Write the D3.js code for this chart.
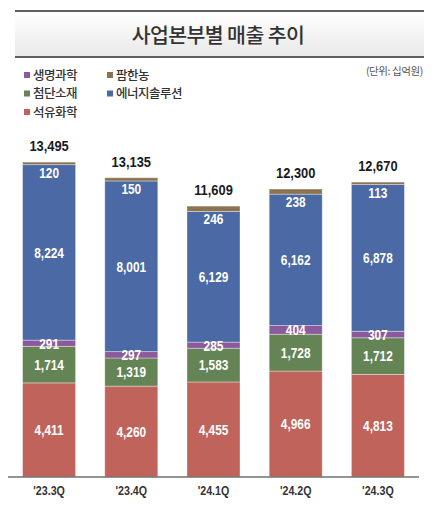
<!DOCTYPE html>
<html>
<head>
<meta charset="utf-8">
<script src="https://cdn.jsdelivr.net/npm/d3@7"></script>
<style>
  body { margin: 0; background: #fff; }
  svg { display: block; }
</style>
</head>
<body>
<svg id="chart"></svg>
<script>
// data (십억원)
const quarters = ["'23.3Q", "'23.4Q", "'24.1Q", "'24.2Q", "'24.3Q"];
const petrochem = [4411, 4260, 4455, 4966, 4813];   // 석유화학
const advanced = [1714, 1319, 1583, 1728, 1712];    // 첨단소재
const lifeSci = [291, 297, 285, 404, 307];          // 생명과학
const energy = [8224, 8001, 6129, 6162, 6878];      // 에너지솔루션
const farm = [120, 150, 246, 238, 113];             // 팜한농
const totals = [13495, 13135, 11609, 12300, 12670];

const seriesNames = ["석유화학", "첨단소재", "생명과학", "에너지솔루션", "팜한농"];
const seriesValues = [petrochem, advanced, lifeSci, energy, farm];
const colors = ["#c0635a", "#648456", "#8c5a9c", "#4a69a5", "#8c7350"];

const width = 443, height = 512;
const baseY = 477;
const numFont = "'Liberation Sans', Arial, sans-serif";
const krFont = "'Noto Sans CJK KR', sans-serif";

const svg = d3.select('#chart')
    .attr('width', width)
    .attr('height', height);

// squeeze Arial-like text so it looks like the narrow face in the original
function narrow(sel, k) {
    sel.each(function () {
        const len = this.getComputedTextLength();
        d3.select(this)
            .attr('textLength', len * k)
            .attr('lengthAdjust', 'spacingAndGlyphs');
    });
}

// title band
const grad = svg.append('defs').append('linearGradient')
    .attr('id', 'titleGrad')
    .attr('x1', 0).attr('y1', 0).attr('x2', 0).attr('y2', 1);
grad.append('stop').attr('offset', '0%').attr('stop-color', '#ffffff');
grad.append('stop').attr('offset', '100%').attr('stop-color', '#e9e9e9');

svg.append('rect')
    .attr('x', 15).attr('y', 11).attr('width', 409).attr('height', 46)
    .attr('fill', 'url(#titleGrad)');
svg.append('line')
    .attr('x1', 15).attr('x2', 424).attr('y1', 11).attr('y2', 11)
    .attr('stroke', '#606060').attr('stroke-width', 2);
svg.append('line')
    .attr('x1', 15).attr('x2', 424).attr('y1', 57).attr('y2', 57)
    .attr('stroke', '#606060').attr('stroke-width', 2);
svg.append('text')
    .attr('x', 218).attr('y', 42.5)
    .attr('text-anchor', 'middle')
    .attr('font-family', krFont)
    .attr('font-size', 20.5)
    .attr('font-weight', 500)
    .attr('letter-spacing', -0.6)
    .attr('fill', '#333')
    .text('사업본부별 매출 추이');

// unit
svg.append('text')
    .attr('x', 423).attr('y', 75)
    .attr('text-anchor', 'end')
    .attr('font-family', krFont)
    .attr('font-size', 10.5)
    .attr('letter-spacing', -0.4)
    .attr('fill', '#555')
    .text('(단위: 십억원)');

// legend (order as in the picture)
const legendItems = [
    { name: '생명과학', idx: 2, col: 0, row: 0 },
    { name: '팜한농', idx: 4, col: 1, row: 0 },
    { name: '첨단소재', idx: 1, col: 0, row: 1 },
    { name: '에너지솔루션', idx: 3, col: 1, row: 1 },
    { name: '석유화학', idx: 0, col: 0, row: 2 }
];
const legend = svg.append('g');
legendItems.forEach(function (d) {
    const lx = 24 + d.col * 83;
    const ly = 75 + d.row * 18.5;
    legend.append('rect')
        .attr('x', lx).attr('y', ly - 3)
        .attr('width', 6).attr('height', 6)
        .attr('fill', colors[d.idx]);
    legend.append('text')
        .attr('x', lx + 9).attr('y', ly + 4.5)
        .attr('font-family', krFont)
        .attr('font-size', 12.5)
        .attr('font-weight', 500)
        .attr('letter-spacing', -0.5)
        .attr('fill', '#333')
        .text(d.name);
});

// scales
const x = d3.scaleBand()
    .domain(quarters)
    .range([8, 419])
    .paddingInner(0.355)
    .paddingOuter(0.1775);

const y = d3.scaleLinear()
    .domain([0, 15000])
    .range([baseY, 157]);

// stack
const rows = quarters.map(function (q, i) {
    const r = { q: q };
    seriesNames.forEach(function (s, j) { r[s] = seriesValues[j][i]; });
    return r;
});
const stacked = d3.stack().keys(seriesNames)(rows);

const layers = svg.append('g').selectAll('g')
    .data(stacked)
    .join('g')
    .attr('fill', function (d, i) { return colors[i]; });

layers.selectAll('rect')
    .data(function (d) { return d; })
    .join('rect')
    .attr('x', function (d) { return x(d.data.q); })
    .attr('y', function (d) { return y(d[1]); })
    .attr('width', x.bandwidth())
    .attr('height', function (d) { return y(d[0]) - y(d[1]); })
    .attr('stroke', 'rgba(255,255,255,0.45)')
    .attr('stroke-width', 0.8);

// segment labels
const fmt = d3.format(',');
stacked.forEach(function (layer, i) {
    svg.append('g').selectAll('text')
        .data(layer)
        .join('text')
        .attr('x', function (d) { return x(d.data.q) + x.bandwidth() / 2; })
        .attr('y', function (d) {
            // 팜한농 is too thin, label sits just below it
            if (i === 4) return y(d[0]) + 13;
            return (y(d[0]) + y(d[1])) / 2 + 5.4;
        })
        .attr('text-anchor', 'middle')
        .attr('font-family', numFont)
        .attr('font-weight', 'bold')
        .attr('font-size', 15)
        .attr('fill', '#fff')
        .text(function (d) { return fmt(d[1] - d[0]); })
        .call(narrow, 0.79);
});

// totals
const topStack = stacked[stacked.length - 1];
svg.append('g').selectAll('text')
    .data(topStack)
    .join('text')
    .attr('x', function (d) { return x(d.data.q) + x.bandwidth() / 2; })
    .attr('y', function (d) { return y(d[1]) - 11; })
    .attr('text-anchor', 'middle')
    .attr('font-family', numFont)
    .attr('font-weight', 'bold')
    .attr('font-size', 15.5)
    .attr('fill', '#1a1a1a')
    .text(function (d, i) { return fmt(totals[i]); })
    .call(narrow, 0.83);

// x axis
const xAxis = svg.append('g')
    .attr('transform', 'translate(0,' + baseY + ')')
    .call(d3.axisBottom(x).tickSize(0).tickPadding(9));
xAxis.select('.domain')
    .attr('d', 'M8,0H419')
    .attr('stroke', '#707070')
    .attr('stroke-width', 1.6);
xAxis.selectAll('text')
    .attr('font-family', numFont)
    .attr('font-weight', 'bold')
    .attr('font-size', 13)
    .attr('fill', '#333')
    .call(narrow, 0.82);
</script>
</body>
</html>
